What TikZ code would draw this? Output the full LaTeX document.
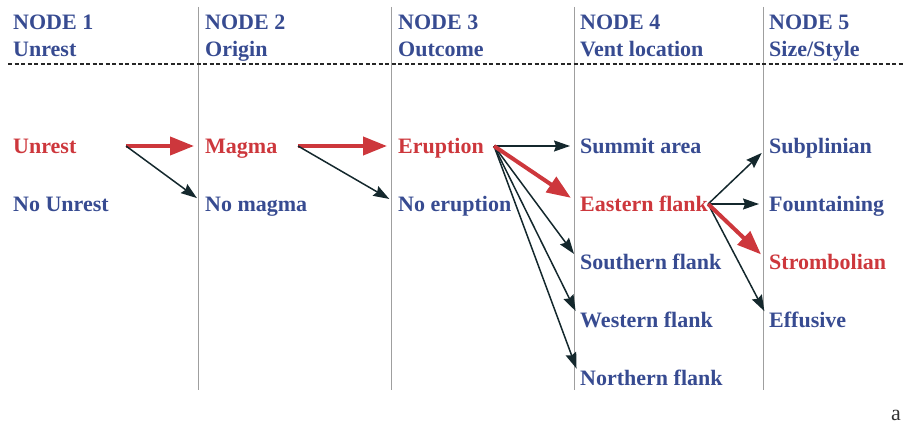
\documentclass[tikz,border=0pt]{standalone}
\usepackage{fontspec}
\setmainfont{Liberation Serif}
\usepackage{xcolor}
\usetikzlibrary{arrows.meta}

\definecolor{nodeblue}{RGB}{55,75,145}
\definecolor{pathred}{RGB}{205,55,60}
\definecolor{arrowdark}{RGB}{20,40,45}

\begin{document}
\begin{tikzpicture}[
  x = 1pt, y = -1pt,
  every node/.style = {
      inner sep=0pt, anchor=west, text height=15pt, text depth=1pt,
      font=\fontsize{22}{27}\selectfont\bfseries, text=nodeblue
  },
  hit/.style = {text=pathred},
  redarrow/.style = {draw=pathred, line width=4pt, shorten >=11pt,
      -{Triangle[length=24pt,width=18pt]}},
  darkarrow/.style = {draw=arrowdark, line width=1.5pt, shorten >=10pt,
      -{Stealth[length=16pt,width=11pt,inset=2pt]}}
]
  \useasboundingbox (0,0) rectangle (904,425);

  % column rules and header line
  \foreach \x in {198,391,574,763}
    \draw[gray!75, line width=0.8pt] (\x,7) -- (\x,390);
  \draw[black!85, line width=1.4pt, dash pattern=on 4pt off 2.5pt] (8,64) -- (904,64);

  % headers
  \node (h1) at (13,23) {NODE 1};  \node (h1b) at (13,50) {Unrest};
  \node (h2) at (205,23) {NODE 2}; \node (h2b) at (205,50) {Origin};
  \node (h3) at (398,23) {NODE 3}; \node (h3b) at (398,50) {Outcome};
  \node (h4) at (580,23) {NODE 4}; \node (h4b) at (580,50) {Vent location};
  \node (h5) at (769,23) {NODE 5}; \node (h5b) at (769,50) {Size/Style};

  % node 1
  \node[hit] (unrest) at (13,146) {Unrest};
  \node (nounrest) at (13,204) {No Unrest};
  % node 2
  \node[hit] (magma) at (205,146) {Magma};
  \node (nomagma) at (205,204) {No magma};
  % node 3
  \node[hit] (erupt) at (398,146) {Eruption};
  \node (noerupt) at (398,204) {No eruption};
  % node 4
  \node (summit) at (580,146) {Summit area};
  \node[hit] (eastern) at (580,204) {Eastern flank};
  \node (southern) at (580,262) {Southern flank};
  \node (western) at (580,320) {Western flank};
  \node (northern) at (580,378) {Northern flank};
  % node 5
  \node (subplin) at (769,146) {Subplinian};
  \node (fountain) at (769,204) {Fountaining};
  \node[hit] (stromb) at (769,262) {Strombolian};
  \node (effusive) at (769,320) {Effusive};

  \node[font=\fontsize{22}{27}\selectfont, text=black!80] (tag) at (891,413) {a};

  % branch points
  \coordinate (unrest-out) at (126,146);
  \coordinate (magma-out) at (298,146);
  \coordinate (erupt-out) at (494,146);

  \draw[redarrow] (unrest-out) -- (magma.west);
  \draw[darkarrow] (unrest-out) -- (nomagma.west);
  \draw[redarrow] (magma-out) -- (erupt.west);
  \draw[darkarrow] (magma-out) -- (noerupt.west);

  \foreach \t in {summit,southern,western,northern}
    \draw[darkarrow] (erupt-out) -- (\t.west);
  \draw[redarrow] (erupt-out) -- (eastern.west);

  \foreach \t in {subplin,fountain,effusive}
    \draw[darkarrow] (eastern.east) -- (\t.west);
  \draw[redarrow] (eastern.east) -- (stromb.west);
\end{tikzpicture}
\end{document}
